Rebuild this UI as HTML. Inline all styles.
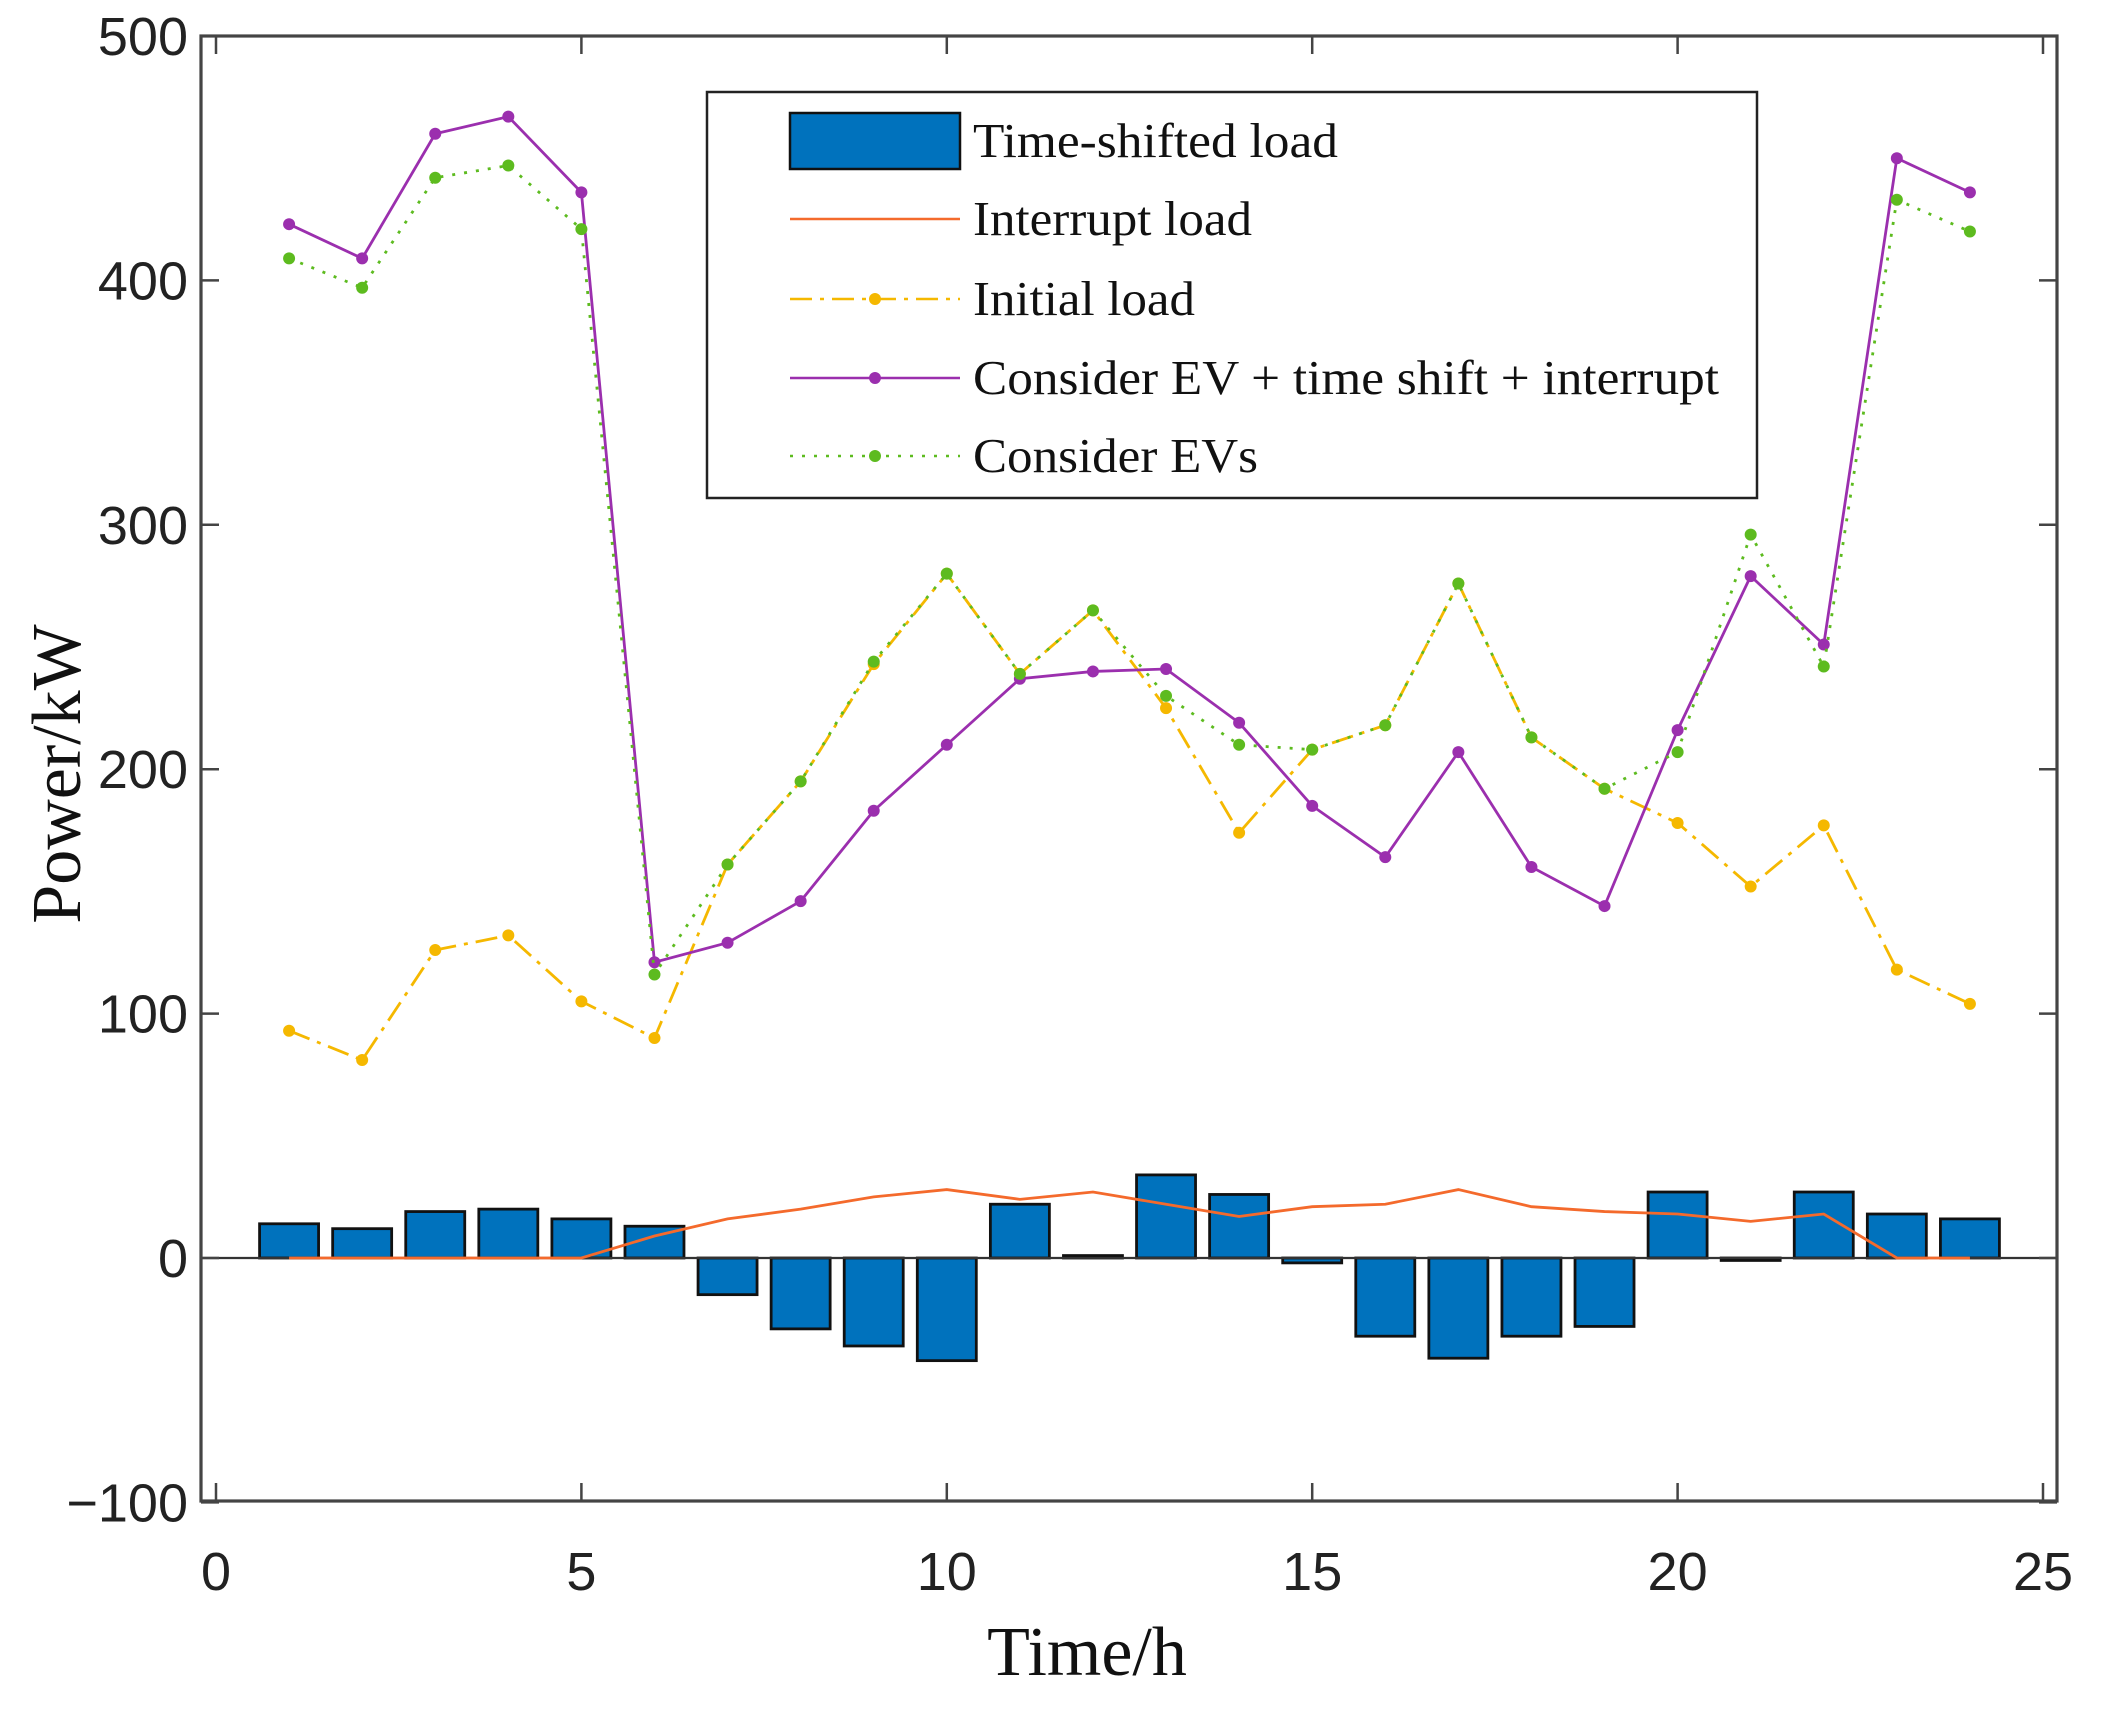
<!DOCTYPE html>
<html><head><meta charset="utf-8"><style>html,body{margin:0;padding:0;background:#fff}svg{display:block}</style></head>
<body>
<svg id="chart" width="2110" height="1713" viewBox="0 0 2110 1713" xmlns="http://www.w3.org/2000/svg"></svg>
<script>
const hours=[1,2,3,4,5,6,7,8,9,10,11,12,13,14,15,16,17,18,19,20,21,22,23,24];
const shiftedLoad=[14,12,19,20,16,13,-15,-29,-36,-42,22,1,34,26,-2,-32,-41,-32,-28,27,-1,27,18,16];
const interruptLoad=[0,0,0,0,0,9,16,20,25,28,24,27,22,17,21,22,28,21,19,18,15,18,0,0];
const initialLoad=[93,81,126,132,105,90,161,195,243,280,239,265,225,174,208,218,276,213,192,178,152,177,118,104];
const evShiftInterrupt=[423,409,460,467,436,121,129,146,183,210,237,240,241,219,185,164,207,160,144,216,279,251,450,436];
const evOnly=[409,397,442,447,421,116,161,195,244,280,239,265,230,210,208,218,276,213,192,207,296,242,433,420];
const xTicks=[0,5,10,15,20,25];
const yTicks=[-100,0,100,200,300,400,500];

const NS='http://www.w3.org/2000/svg';
const svg=document.getElementById('chart');
const X=v=>216+v*73.08;
const Y=v=>1258-v*2.444;
const L=201,R=2057,T=36,B=1501;
function el(tag,attrs,parent){const e=document.createElementNS(NS,tag);for(const k in attrs)e.setAttribute(k,attrs[k]);(parent||svg).appendChild(e);return e;}

hours.forEach((h,i)=>{const v=shiftedLoad[i];const y=Math.min(Y(v),Y(0));const hh=Math.max(Math.abs(Y(v)-Y(0)),1.5);
const b=el('rect',{x:X(h)-29.5,y:y,width:59,height:hh,fill:'#0072bd',stroke:'#111','stroke-width':2.8});

});
const z=el('line',{x1:L,x2:R,y1:Y(0),y2:Y(0),stroke:'#333','stroke-width':2.2});



function series(vals,name,color,dash,marker){
 const pts=hours.map((h,i)=>X(h)+','+Y(vals[i])).join(' ');
 const p=el('polyline',{points:pts,fill:'none',stroke:color,'stroke-width':2.8,'stroke-dasharray':dash||''});
 
 
 if(marker)hours.forEach((h,i)=>{const c=el('circle',{cx:X(h),cy:Y(vals[i]),r:6,fill:color});
 
 });
}
series(interruptLoad,'interrupt-load','#f46a2c','',false);
series(initialLoad,'initial-load','#f5b800','22,8,4,8',true);
series(evShiftInterrupt,'ev-shift-interrupt','#9b2fae','',true);
series(evOnly,'ev-only','#5dbb1f','3,9',true);

const box=el('rect',{x:L,y:T,width:R-L,height:B-T,fill:'none',stroke:'#444','stroke-width':3.2});


xTicks.forEach(t=>{el('line',{x1:X(t),x2:X(t),y1:B,y2:B-18,stroke:'#444','stroke-width':2.5});el('line',{x1:X(t),x2:X(t),y1:T,y2:T+18,stroke:'#444','stroke-width':2.5});
 const tx=el('text',{x:X(t),y:1590,'text-anchor':'middle','font-family':'Liberation Sans, sans-serif','font-size':54,fill:'#222'});tx.textContent=t;
 
 });
yTicks.forEach(t=>{el('line',{x1:L,x2:L+18,y1:Y(t),y2:Y(t),stroke:'#444','stroke-width':2.5});el('line',{x1:R,x2:R-18,y1:Y(t),y2:Y(t),stroke:'#444','stroke-width':2.5});
 const tx=el('text',{x:188,y:Y(t)+19,'text-anchor':'end','font-family':'Liberation Sans, sans-serif','font-size':54,fill:'#222'});tx.textContent=(t<0?'\u2212'+(-t):t);
 
 });
const xt=el('text',{x:1087,y:1675,'text-anchor':'middle','font-family':'Liberation Serif, serif','font-size':70,fill:'#111'});xt.textContent='Time/h';


const yt=el('text',{x:0,y:0,'text-anchor':'middle','font-family':'Liberation Serif, serif','font-size':70,fill:'#111',transform:'translate(80,774) rotate(-90)'});yt.textContent='Power/kW';



const lg=el('g',{});


el('rect',{x:707,y:92,width:1050,height:406,fill:'#fff',stroke:'#222','stroke-width':2.5},lg);
const ly=[141,219,299,378,456];
const labels=['Time-shifted load','Interrupt load','Initial load','Consider EV + time shift + interrupt','Consider EVs'];
el('rect',{x:790,y:113,width:170,height:56,fill:'#0072bd',stroke:'#111','stroke-width':2.5},lg);
el('line',{x1:790,x2:960,y1:ly[1],y2:ly[1],stroke:'#f46a2c','stroke-width':2.5},lg);
el('line',{x1:790,x2:960,y1:ly[2],y2:ly[2],stroke:'#f5b800','stroke-width':2.5,'stroke-dasharray':'22,8,4,8'},lg);
el('circle',{cx:875,cy:ly[2],r:6,fill:'#f5b800'},lg);
el('line',{x1:790,x2:960,y1:ly[3],y2:ly[3],stroke:'#9b2fae','stroke-width':2.5},lg);
el('circle',{cx:875,cy:ly[3],r:6,fill:'#9b2fae'},lg);
el('line',{x1:790,x2:960,y1:ly[4],y2:ly[4],stroke:'#5dbb1f','stroke-width':2.5,'stroke-dasharray':'3,9'},lg);
el('circle',{cx:875,cy:ly[4],r:6,fill:'#5dbb1f'},lg);
const widths=[365,279,222,746,285];
labels.forEach((s,i)=>{const t=el('text',{x:973,y:ly[i]+16,'font-family':'Liberation Serif, serif','font-size':49,fill:'#111',textLength:widths[i],lengthAdjust:'spacingAndGlyphs'},lg);t.textContent=s;
 
 });
</script>
</body></html>
